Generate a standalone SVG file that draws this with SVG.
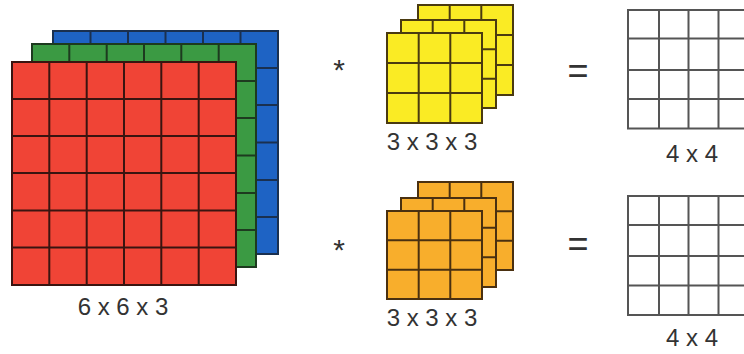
<svg xmlns="http://www.w3.org/2000/svg" width="744" height="354" viewBox="0 0 744 354">
<style>
.lbl{font-family:"Liberation Sans",Arial,sans-serif;font-size:24px;fill:#333;text-anchor:middle}
.op{font-family:"Liberation Sans",Arial,sans-serif;fill:#333;text-anchor:middle}
.g{stroke-width:2;fill:none}
</style>
<rect width="744" height="354" fill="#fff"/>
<g id="input-6x6x3">
  <g id="blue">
    <rect x="53" y="31" width="225" height="223" fill="#1E63C4" stroke="#1a3050" stroke-width="2"/>
    <path class="g" stroke="#1a3050" d="M90.5 31V254M128 31V254M165.5 31V254M203 31V254M240.5 31V254M53 68H278M53 105H278M53 142.5H278M53 180H278M53 217H278"/>
  </g>
  <g id="green">
    <rect x="32" y="44" width="224" height="223" fill="#3B9A43" stroke="#1d3a1f" stroke-width="2"/>
    <path class="g" stroke="#1d3a1f" d="M69.3 44V267M106.7 44V267M144 44V267M181.3 44V267M218.7 44V267M32 81H256M32 118H256M32 155.5H256M32 193H256M32 230H256"/>
  </g>
  <g id="red">
    <rect x="12" y="62" width="224" height="223" fill="#F04436" stroke="#3a1410" stroke-width="2"/>
    <path class="g" stroke="#3a1410" d="M49.3 62V285M86.7 62V285M124 62V285M161.3 62V285M198.7 62V285M12 99H236M12 136H236M12 173H236M12 210.5H236M12 247.5H236"/>
  </g>
  <text class="lbl" x="123" y="315">6 x 6 x 3</text>
</g>
<g id="op-star-1"><text class="op" x="339" y="80" font-size="30">*</text></g>
<g id="kernel-yellow">
  <g fill="#FAEB24" stroke="#4a3a10" stroke-width="2">
    <rect x="418" y="5" width="95" height="90"/>
    <path fill="none" d="M449.7 5V95M481.3 5V95M418 35H513M418 65H513"/>
    <rect x="401" y="20" width="95" height="88"/>
    <path fill="none" d="M432.7 20V108M464.3 20V108M401 49.3H496M401 78.7H496"/>
    <rect x="387" y="33" width="95" height="90"/>
    <path fill="none" d="M418.7 33V123M450.3 33V123M387 63H482M387 93H482"/>
  </g>
  <text class="lbl" x="432" y="150">3 x 3 x 3</text>
</g>
<g id="kernel-orange">
  <g fill="#F8AE2C" stroke="#4a3010" stroke-width="2">
    <rect x="418" y="182" width="95" height="88"/>
    <path fill="none" d="M449.7 182V270M481.3 182V270M418 211.3H513M418 240.7H513"/>
    <rect x="401" y="198" width="95" height="89"/>
    <path fill="none" d="M432.7 198V287M464.3 198V287M401 227.7H496M401 257.3H496"/>
    <rect x="387" y="211" width="95" height="88"/>
    <path fill="none" d="M418.7 211V299M450.3 211V299M387 240.3H482M387 269.7H482"/>
  </g>
  <text class="lbl" x="432" y="326">3 x 3 x 3</text>
</g>
<g id="op-star-2"><text class="op" x="339" y="260" font-size="30">*</text></g>
<g id="op-eq-1"><text class="op" x="578" y="83" font-size="36">=</text></g>
<g id="op-eq-2"><text class="op" x="578" y="256" font-size="36">=</text></g>
<g id="output-1">
  <rect x="628" y="10" width="121" height="118.5" fill="#fff" stroke="#555" stroke-width="2"/>
  <path class="g" stroke="#555" d="M659 10V128.5M688.5 10V128.5M718.5 10V128.5M628 38.5H749M628 70H749M628 99H749"/>
  <text class="lbl" x="692" y="162">4 x 4</text>
</g>
<g id="output-2">
  <rect x="628" y="196" width="121" height="119" fill="#fff" stroke="#555" stroke-width="2"/>
  <path class="g" stroke="#555" d="M659 196V315M688.5 196V315M718.5 196V315M628 225H749M628 256H749M628 285.5H749"/>
  <text class="lbl" x="692" y="346">4 x 4</text>
</g>
<g id="connectors"/>
</svg>
